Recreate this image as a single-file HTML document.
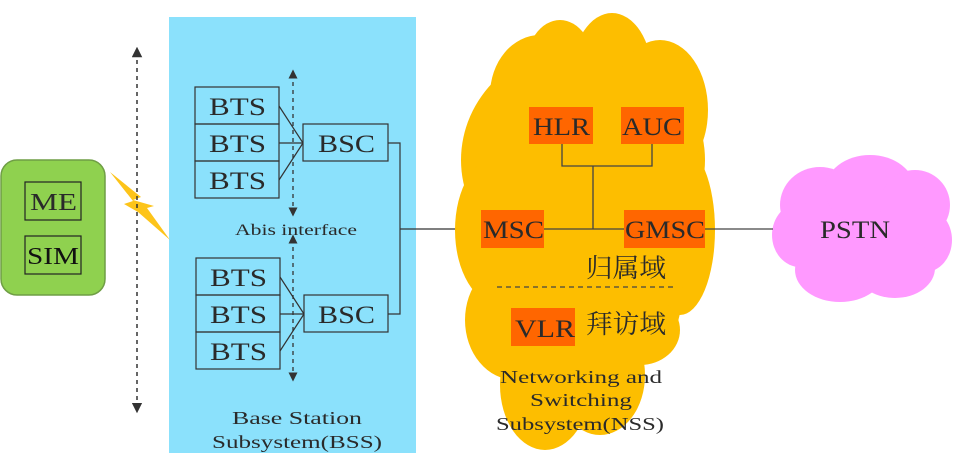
<!DOCTYPE html>
<html><head><meta charset="utf-8"><style>
html,body{margin:0;padding:0;background:#fff;}
svg{display:block}
text{font-family:"Liberation Serif","Noto Serif CJK SC",serif;fill:#2a2a2a}
</style></head><body>
<svg width="960" height="462" viewBox="0 0 960 462" xmlns="http://www.w3.org/2000/svg">
<defs>
<marker id="ah" viewBox="0 0 10 10" refX="5" refY="5" markerWidth="7" markerHeight="7" orient="auto-start-reverse"><path d="M0,0 L10,5 L0,10 z" fill="#333"/></marker>
</defs>
<rect x="169" y="17" width="247" height="436" fill="#8be1fc"/>
<rect x="1" y="160" width="104" height="135" rx="16" fill="#8fd14f" stroke="#6f9e45" stroke-width="1.5"/>
<rect x="25" y="182" width="56" height="38" fill="none" stroke="#222" stroke-width="1.2"/>
<text x="30" y="210" font-size="24" textLength="47" lengthAdjust="spacingAndGlyphs">ME</text>
<rect x="25" y="236" width="56" height="38" fill="none" stroke="#222" stroke-width="1.2"/>
<text x="27" y="264" font-size="24" textLength="52" lengthAdjust="spacingAndGlyphs" style="fill:#111">SIM</text>
<polygon points="110,172 141,197 133,200 154,206 147,208 170,240 138,212 124,204 133,201" fill="#fdc10e" opacity="0.95"/>
<line x1="137" y1="52" x2="137" y2="408" stroke="#333" stroke-width="1.5" stroke-dasharray="4,4" marker-start="url(#ah)" marker-end="url(#ah)"/>
<g stroke="#333" stroke-width="1.2" fill="none">
<rect x="195" y="87" width="84" height="37"/><rect x="195" y="124" width="84" height="37"/><rect x="195" y="161" width="84" height="37"/>
<rect x="303" y="124" width="85" height="37"/>
<line x1="279" y1="106" x2="303" y2="143"/><line x1="279" y1="143" x2="303" y2="143"/><line x1="279" y1="180" x2="303" y2="143"/>
<rect x="196" y="258" width="84" height="37"/><rect x="196" y="295" width="84" height="37"/><rect x="196" y="332" width="84" height="37"/>
<rect x="304" y="295" width="84" height="37"/>
<line x1="280" y1="277" x2="304" y2="314"/><line x1="280" y1="314" x2="304" y2="314"/><line x1="280" y1="351" x2="304" y2="314"/>
<polyline points="388,143 400,143 400,314 388,314"/>
<line x1="400" y1="229" x2="481" y2="229"/>
</g>
<line x1="293" y1="74" x2="293" y2="212" stroke="#333" stroke-width="1.3" stroke-dasharray="4,4" marker-start="url(#ah)" marker-end="url(#ah)"/>
<line x1="293" y1="239" x2="293" y2="377" stroke="#333" stroke-width="1.3" stroke-dasharray="4,4" marker-start="url(#ah)" marker-end="url(#ah)"/>
<g font-size="25" lengthAdjust="spacingAndGlyphs">
<text x="209" y="115" textLength="57" lengthAdjust="spacingAndGlyphs">BTS</text>
<text x="209" y="152" textLength="57" lengthAdjust="spacingAndGlyphs">BTS</text>
<text x="209" y="189" textLength="57" lengthAdjust="spacingAndGlyphs">BTS</text>
<text x="318" y="152" textLength="57" lengthAdjust="spacingAndGlyphs">BSC</text>
<text x="210" y="286" textLength="57" lengthAdjust="spacingAndGlyphs">BTS</text>
<text x="210" y="323" textLength="57" lengthAdjust="spacingAndGlyphs">BTS</text>
<text x="210" y="360" textLength="57" lengthAdjust="spacingAndGlyphs">BTS</text>
<text x="318" y="323" textLength="57" lengthAdjust="spacingAndGlyphs">BSC</text>
</g>
<text x="235" y="235" font-size="16" textLength="122" lengthAdjust="spacingAndGlyphs">Abis interface</text>
<text x="232" y="424" font-size="18" textLength="130" lengthAdjust="spacingAndGlyphs">Base Station</text>
<text x="212" y="448" font-size="18" textLength="170" lengthAdjust="spacingAndGlyphs">Subsystem(BSS)</text>
<g fill="#fdbe00">
<ellipse cx="583" cy="160" rx="122" ry="115"/>
<ellipse cx="540" cy="95" rx="50" ry="60"/>
<ellipse cx="612" cy="75" rx="40" ry="62"/>
<ellipse cx="560" cy="70" rx="35" ry="50"/>
<ellipse cx="660" cy="110" rx="48" ry="70"/>
<ellipse cx="500" cy="230" rx="45" ry="75"/>
<ellipse cx="680" cy="230" rx="35" ry="85"/>
<ellipse cx="585" cy="260" rx="110" ry="60"/>
<ellipse cx="515" cy="320" rx="50" ry="60"/>
<ellipse cx="600" cy="310" rx="80" ry="50"/>
<ellipse cx="545" cy="385" rx="45" ry="65"/>
<ellipse cx="600" cy="375" rx="45" ry="60"/>
<ellipse cx="640" cy="330" rx="40" ry="35"/>
</g>
<g fill="#ff99ff">
<ellipse cx="862" cy="230" rx="82" ry="55"/>
<ellipse cx="820" cy="205" rx="40" ry="38"/>
<ellipse cx="870" cy="190" rx="45" ry="35"/>
<ellipse cx="915" cy="205" rx="35" ry="35"/>
<ellipse cx="800" cy="235" rx="28" ry="32"/>
<ellipse cx="925" cy="240" rx="27" ry="32"/>
<ellipse cx="840" cy="270" rx="45" ry="32"/>
<ellipse cx="895" cy="268" rx="40" ry="30"/>
</g>
<g stroke="#444" stroke-width="1.3" fill="none">
<polyline points="562,144 562,166 652,166 652,144"/>
<line x1="593" y1="166" x2="593" y2="229"/>
<line x1="544" y1="229" x2="624" y2="229"/>
<line x1="705" y1="229" x2="773" y2="229"/>
<line x1="497" y1="287" x2="675" y2="287" stroke-dasharray="5,4"/>
</g>
<g fill="#ff6600">
<rect x="529" y="107" width="64" height="37"/><rect x="621" y="107" width="63" height="37"/>
<rect x="481" y="210" width="63" height="38"/><rect x="624" y="210" width="81" height="38"/>
<rect x="511" y="308" width="64" height="38"/>
</g>
<g font-size="25">
<text x="533" y="135" textLength="57" lengthAdjust="spacingAndGlyphs">HLR</text>
<text x="622" y="135" textLength="60" lengthAdjust="spacingAndGlyphs">AUC</text>
<text x="483" y="238" textLength="61" lengthAdjust="spacingAndGlyphs">MSC</text>
<text x="625" y="238" textLength="80" lengthAdjust="spacingAndGlyphs">GMSC</text>
<text x="515" y="337" textLength="60" lengthAdjust="spacingAndGlyphs">VLR</text>
<text x="820" y="238" textLength="70" lengthAdjust="spacingAndGlyphs">PSTN</text>
</g>
<text x="586" y="277" font-size="26" textLength="80" lengthAdjust="spacingAndGlyphs">归属域</text>
<text x="586" y="333" font-size="26" textLength="80" lengthAdjust="spacingAndGlyphs">拜访域</text>
<text x="500" y="383" font-size="18" textLength="162" lengthAdjust="spacingAndGlyphs">Networking and</text>
<text x="530" y="406" font-size="18" textLength="102" lengthAdjust="spacingAndGlyphs">Switching</text>
<text x="496" y="430" font-size="18" textLength="168" lengthAdjust="spacingAndGlyphs">Subsystem(NSS)</text>
</svg>
</body></html>
